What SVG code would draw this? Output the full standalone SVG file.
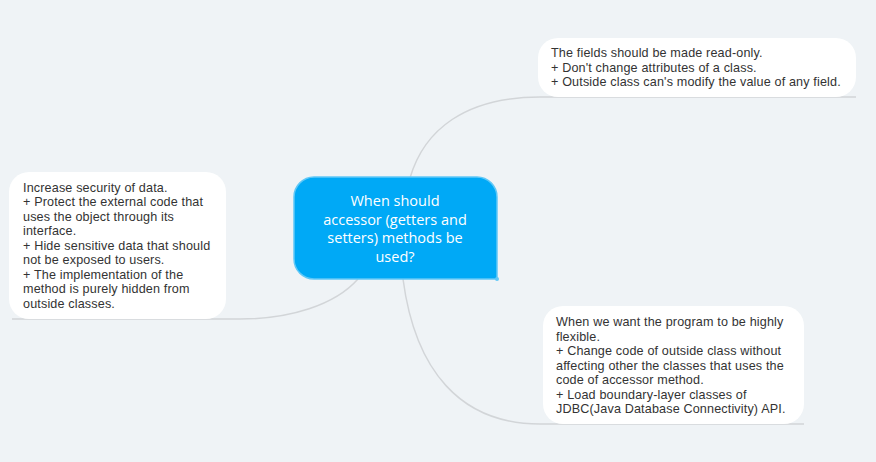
<svg xmlns="http://www.w3.org/2000/svg" width="876" height="462" viewBox="0 0 876 462">
<style>
.bg{fill:#eff3f6}
.conn{fill:none;stroke:#d2d5d8;stroke-width:1.5}
.card{fill:#ffffff}
.t{font-family:"Liberation Sans",Arial,sans-serif;font-size:12.6px;letter-spacing:0.15px;fill:#333333}
.c{font-family:"Open Sans","Liberation Sans",sans-serif;font-size:14.5px;fill:#ffffff;text-anchor:middle}
</style>
<rect class="bg" x="0" y="0" width="876" height="462"/>
<g id="connectors">
<path class="conn" d="M410,178 C424,130 465,97 540,97 L856,97"/>
<path class="conn" d="M358,279 C335,305 290,319 240,319 L12,319"/>
<path class="conn" d="M403,279 C415,370 460,424 540,424 L804,424"/>
</g>
<g id="node-center">
<path d="M314,177 H477 A20,20 0 0 1 497,197 V279 H314 A20,20 0 0 1 294,259 V197 A20,20 0 0 1 314,177 Z" fill="#00a9f6" stroke="#60c8f7" stroke-width="1.5"/>
<circle cx="497" cy="279" r="2" fill="#60c8f7"/>
<text class="c"><tspan x="395" y="206">When should</tspan><tspan x="395" y="224.5">accessor (getters and</tspan><tspan x="395" y="243">setters) methods be</tspan><tspan x="395" y="261.5">used?</tspan></text>
</g>
<g id="node-top-right">
<rect class="card" x="538" y="38" width="318" height="59" rx="20"/>
<text class="t"><tspan x="551" y="57">The fields should be made read-only.</tspan><tspan x="551" y="71.5">+ Don't change attributes of a class.</tspan><tspan x="551" y="86">+ Outside class can's modify the value of any field.</tspan></text>
</g>
<g id="node-left">
<rect class="card" x="9" y="172" width="217" height="147" rx="20"/>
<text class="t"><tspan x="23" y="191.5">Increase security of data.</tspan><tspan x="23" y="206">+ Protect the external code that</tspan><tspan x="23" y="220.5">uses the object through its</tspan><tspan x="23" y="235">interface.</tspan><tspan x="23" y="249.5">+ Hide sensitive data that should</tspan><tspan x="23" y="264">not be exposed to users.</tspan><tspan x="23" y="278.5">+ The implementation of the</tspan><tspan x="23" y="293">method is purely hidden from</tspan><tspan x="23" y="307.5">outside classes.</tspan></text>
</g>
<g id="node-bottom-right">
<rect class="card" x="543" y="306" width="261" height="118" rx="20"/>
<text class="t"><tspan x="556" y="326">When we want the program to be highly</tspan><tspan x="556" y="340.5">flexible.</tspan><tspan x="556" y="355">+ Change code of outside class without</tspan><tspan x="556" y="369.5">affecting other the classes that uses the</tspan><tspan x="556" y="384">code of accessor method.</tspan><tspan x="556" y="398.5">+ Load boundary-layer classes of</tspan><tspan x="556" y="413">JDBC(Java Database Connectivity) API.</tspan></text>
</g>
</svg>
